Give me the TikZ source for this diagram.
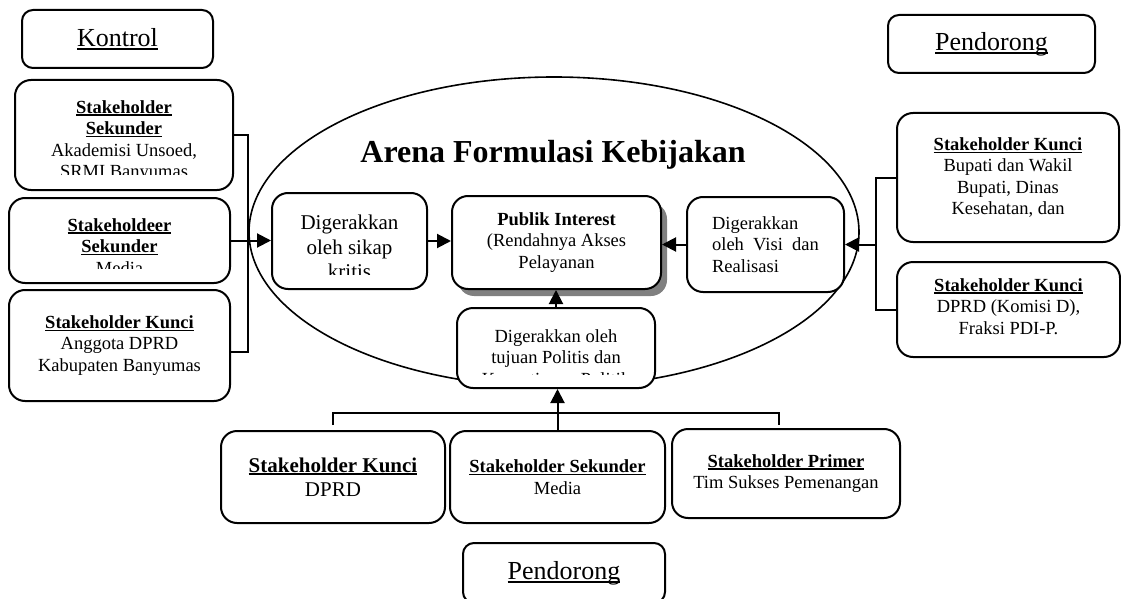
\documentclass[tikz,border=0pt]{standalone}
\usepackage{fontspec}
\setmainfont{Liberation Serif}
\usetikzlibrary{arrows.meta,shadows}

\newcommand{\fsa}{\fontsize{18.5}{21.5}\selectfont}
\newcommand{\fsb}{\fontsize{21}{24.5}\selectfont}
\newcommand{\fsc}{\fontsize{26}{30}\selectfont}
\newcommand{\fsd}{\fontsize{32}{36}\selectfont}
\newcommand{\ulin}[1]{\setbox0\hbox{#1}\rlap{\rule[-0.14em]{\wd0}{0.07em}}\box0}
\newcommand{\judul}[1]{\ulin{\textbf{#1}}}

\begin{document}
\begin{tikzpicture}[x=1pt,y=-1pt,
  box/.style={draw,line width=2pt,rounded corners=16pt,fill=white,inner sep=0pt},
  labelbox/.style={draw,line width=2pt,rounded corners=11pt,fill=white,font=\fsc},
  txt/.style={inner sep=0pt,align=center,font=\fsa},
  conn/.style={line width=2pt},
  arr/.style={line width=2pt,-{Triangle[length=14pt,width=14pt]}}]
\clip (0,0) rectangle (1121,599);
\fill[white] (0,0) rectangle (1121,599);

% arena
\draw[line width=1.6pt] (554,232) circle [x radius=305, y radius=155];
\node[font=\fsd\bfseries] (arena) at (553,155) {Arena Formulasi Kebijakan};

% label boxes
\node[labelbox,minimum width=191pt,minimum height=58pt] (kontrol) at (117.5,39) {\ulin{Kontrol}};
\node[labelbox,minimum width=207pt,minimum height=58pt] (dorongA) at (991.5,44) {\ulin{Pendorong}};
\node[labelbox,minimum width=202pt,minimum height=60pt] (dorongB) at (564,573) {\ulin{Pendorong}};

% kiri
\node[box,minimum width=218pt,minimum height=110pt] (sekA) at (124,135) {};
\begin{scope}
  \clip (15,80) rectangle (233,174);
  \node[txt,anchor=north] (sekA-t) at (124,100) {\judul{Stakeholder}\\ \judul{Sekunder}\\ Akademisi Unsoed,\\ SRMI Banyumas};
\end{scope}
\node[box,minimum width=221pt,minimum height=85pt] (sekB) at (119.5,240.5) {};
\begin{scope}
  \clip (9,198) rectangle (230,268);
  \node[txt,anchor=north] (sekB-t) at (119.5,218) {\judul{Stakeholdeer}\\ \judul{Sekunder}\\ Media};
\end{scope}
\node[box,txt,minimum width=221pt,minimum height=111pt] (kunciL) at (119.5,345.5)
  {\judul{Stakeholder Kunci}\\ Anggota DPRD\\ Kabupaten Banyumas};

% tengah
\node[box,minimum width=155pt,minimum height=96pt] (kritis) at (349.5,241) {};
\begin{scope}
  \clip (272,193) rectangle (427,274);
  \node[txt,font=\fsb,anchor=north] (kritis-t) at (349.5,215) {Digerakkan\\ oleh sikap\\ kritis};
\end{scope}
\node[box,txt,minimum width=209pt,minimum height=93pt,
  drop shadow={shadow xshift=6pt,shadow yshift=-7pt,fill=black!50,opacity=1}] (publik) at (556.5,242.5)
  {\textbf{Publik Interest}\\ (Rendahnya Akses\\ Pelayanan};
\node[box,txt,align=left,minimum width=157pt,minimum height=95pt] (visi) at (765.5,244.5)
  {Digerakkan\\ oleh\ \ Visi\ \ dan\\ Realisasi};
\node[box,minimum width=198pt,minimum height=80pt] (politis) at (556,348) {};
\begin{scope}
  \clip (457,308) rectangle (655,374);
  \node[txt,anchor=north] (politis-t) at (556,329) {Digerakkan oleh\\ tujuan Politis dan\\ Kepentingan Politik};
\end{scope}

% kanan
\node[box,txt,minimum width=222pt,minimum height=129pt] (kunciR1) at (1008,177.5)
  {\judul{Stakeholder Kunci}\\ Bupati dan Wakil\\ Bupati, Dinas\\ Kesehatan, dan};
\node[box,minimum width=223pt,minimum height=95pt] (kunciR2) at (1008.5,309.5) {};
\begin{scope}
  \clip (897,262) rectangle (1120,334);
  \node[txt,anchor=north] (kunciR2-t) at (1008.5,278) {\judul{Stakeholder Kunci}\\ DPRD (Komisi D),\\ Fraksi PDI-P.};
\end{scope}

% bawah
\node[box,txt,font=\fsb,minimum width=224pt,minimum height=92pt] (kunciB) at (333,477)
  {\judul{Stakeholder Kunci}\\ DPRD};
\node[box,txt,minimum width=215pt,minimum height=92pt] (sekC) at (557.5,477)
  {\judul{Stakeholder Sekunder}\\ Media};
\node[box,txt,minimum width=228pt,minimum height=89pt] (primer) at (786,473.5)
  {\judul{Stakeholder Primer}\\ Tim Sukses Pemenangan};

% penghubung
\coordinate (lb) at (248,0);
\coordinate (rb) at (876,0);
\coordinate (kl) at ([yshift=-6pt]kunciL.east);
\coordinate (bl) at (333,425);
\coordinate (br) at (779,425);
\draw[conn] (sekA.east) -| (lb |- kl) -- (kl);
\draw[arr] (sekB.east) -- (sekB.east -| kritis.west);
\draw[arr] (kritis.east) -- (kritis.east -| publik.west);
\draw[conn] (kunciR1.west) -| (rb |- kunciR2.west) -- (kunciR2.west);
\draw[arr] (rb |- visi.east) -- (visi.east);
\draw[arr] (visi.west) -- (visi.west -| publik.east);
\draw[arr] (politis.north) -- (politis.north |- publik.south);
\draw[conn] (bl) -- ++(0,-12) -| (br);
\draw[arr] (sekC.north) -- (sekC.north |- politis.south);
\end{tikzpicture}
\end{document}
